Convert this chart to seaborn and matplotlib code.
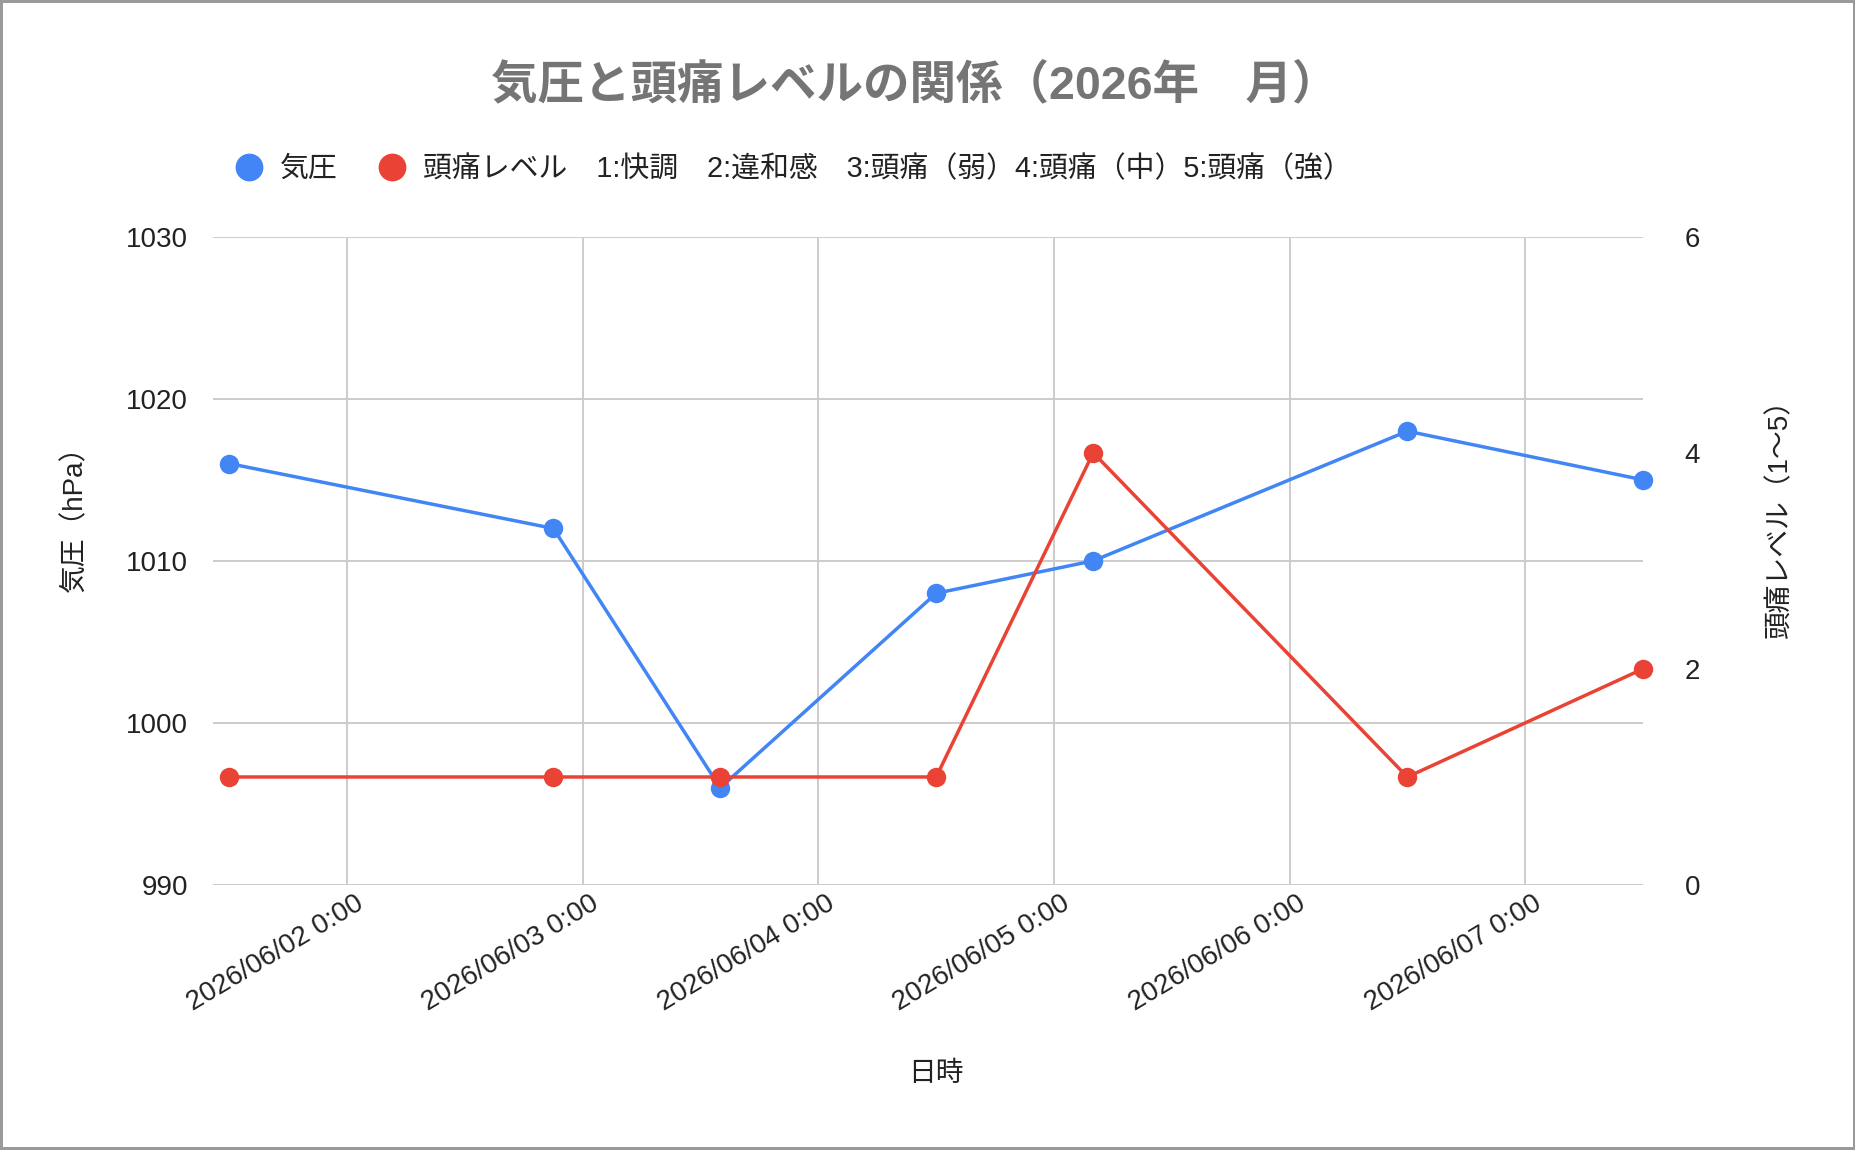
import pandas as pd
import seaborn as sns
import matplotlib.pyplot as plt
import matplotlib.dates as mdates
import matplotlib.transforms as mtransforms
from matplotlib.lines import Line2D

# data
times = ['2026-06-01 12:00', '2026-06-02 21:00', '2026-06-03 14:00', '2026-06-04 12:00',
         '2026-06-05 04:00', '2026-06-06 12:00', '2026-06-07 12:00']
pressure = [1016, 1012, 996, 1008, 1010, 1018, 1015]
headache = [1, 1, 1, 1, 4, 1, 2]

title = '気圧と頭痛レベルの関係（2026年　月）'
pressure_label = '気圧'
headache_label = '頭痛レベル　1:快調　2:違和感　3:頭痛（弱）4:頭痛（中）5:頭痛（強）'

df = pd.DataFrame({'日時': pd.to_datetime(times), '気圧': pressure, '頭痛': headache})

BLUE = '#4285F4'
RED = '#EA4335'

sns.set_style('white')
plt.rcParams['font.family'] = ['Liberation Sans', 'Noto Sans CJK JP', 'DejaVu Sans']
plt.rcParams['text.color'] = '#222222'

fig = plt.figure(figsize=(18.56, 11.5), dpi=100)
ax = fig.add_axes([0.1148, 0.2304, 0.7704, 0.5638])
ax2 = ax.twinx()

sns.lineplot(data=df, x='日時', y='気圧', ax=ax, color=BLUE, linewidth=2.5,
             marker='o', markersize=14, markeredgewidth=0, legend=False)
sns.lineplot(data=df, x='日時', y='頭痛', ax=ax2, color=RED, linewidth=2.5,
             marker='o', markersize=14, markeredgewidth=0, legend=False)
for line in ax.lines + ax2.lines:
    line.set_clip_on(False)

# axes ranges
ax.set_ylim(990, 1030)
ax.set_yticks([990, 1000, 1010, 1020, 1030])
ax2.set_ylim(0, 6)
ax2.set_yticks([0, 2, 4, 6])
ax.set_xlim(pd.Timestamp('2026-06-01 10:20'), pd.Timestamp('2026-06-07 12:00'))
ax.xaxis.set_major_locator(mdates.DayLocator())
ax.xaxis.set_major_formatter(plt.FuncFormatter(
    lambda v, _: (lambda d: f'{d:%Y/%m/%d} {d.hour}:{d:%M}')(mdates.num2date(v))))

ax.grid(True, color='#cccccc', linewidth=1.4)
ax2.grid(False)
for a in (ax, ax2):
    for s in a.spines.values():
        s.set_visible(False)
    a.tick_params(length=0, labelsize=20, colors='#222222')
ax.tick_params(axis='y', pad=18)
ax2.tick_params(axis='y', pad=30)
ax.tick_params(axis='x', pad=12)

offset = mtransforms.ScaledTranslation(0.14, 0, fig.dpi_scale_trans)
for lbl in ax.get_xticklabels():
    lbl.set_rotation(31)
    lbl.set_ha('right')
    lbl.set_va('center')
    lbl.set_rotation_mode('anchor')
    lbl.set_transform(lbl.get_transform() + offset)

ax.set_xlabel('')
ax.set_ylabel('')
ax2.set_ylabel('')
fig.text(0.0405, 0.555, '気圧（hPa）', rotation=90, ha='center', va='center', fontsize=20)
fig.text(0.959, 0.555, '頭痛レベル（1〜5）', rotation=90, ha='center', va='center', fontsize=20)
fig.text(0.504, 0.066, '日時', ha='center', va='center', fontsize=20)

fig.text(0.493, 0.925, title, ha='center', va='center', fontsize=33.5,
         fontweight='bold', color='#757575')

handles = [Line2D([], [], linestyle='none', marker='o', markersize=20, markeredgewidth=0, color=BLUE),
           Line2D([], [], linestyle='none', marker='o', markersize=20, markeredgewidth=0, color=RED)]
fig.legend(handles, [pressure_label, headache_label], loc='center left',
           bbox_to_anchor=(0.111, 0.853), ncol=2, frameon=False, fontsize=20.8,
           handletextpad=0.45, columnspacing=1.3, handlelength=1.2)

fig.patch.set_edgecolor('#9a9a9a')
fig.patch.set_linewidth(3)

plt.savefig('out.png', dpi=100)
